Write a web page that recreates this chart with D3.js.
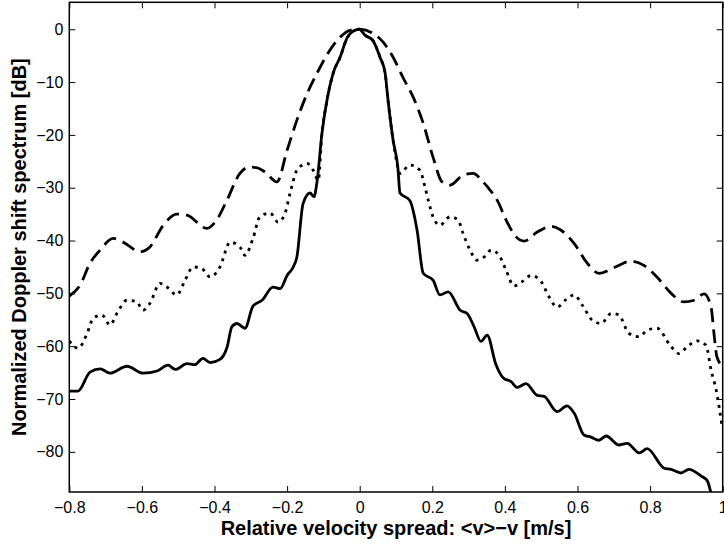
<!DOCTYPE html>
<html>
<head>
<meta charset="utf-8">
<script src="https://cdn.jsdelivr.net/npm/d3@7"></script>
<style>
  body { margin: 0; background: #fff; }
  svg { display: block; font-family: "Liberation Sans", Arial, Helvetica, sans-serif; }
</style>
</head>
<body>
<div id="chart"></div>
<script>
// tick values
var xTicks = [-0.8, -0.6, -0.4, -0.2, 0, 0.2, 0.4, 0.6, 0.8, 1];
var yTicks = [0, -10, -20, -30, -40, -50, -60, -70, -80];

// [velocity, dB]
var solidLine = [
  [-0.8,-68.5],[-0.776,-68.5],[-0.743,-64.9],[-0.715,-64.3],[-0.688,-65.1],[-0.641,-63.8],
  [-0.597,-65.1],[-0.558,-64.7],[-0.528,-63.6],[-0.508,-64.4],[-0.476,-63.3],[-0.454,-63.5],
  [-0.432,-62.3],[-0.412,-63.1],[-0.385,-62.5],[-0.365,-60.1],[-0.352,-56.3],[-0.338,-55.7],
  [-0.316,-56.6],[-0.294,-52.4],[-0.269,-51.3],[-0.239,-48.8],[-0.219,-49.1],[-0.2,-46.6],
  [-0.183,-45],[-0.173,-43.1],[-0.156,-33],[-0.137,-31],[-0.126,-31.7],[-0.118,-29.1],
  [-0.104,-19.7],[-0.09,-13.4],[-0.073,-8.3],[-0.054,-5.3],[-0.035,-1.7],[-0.013,-0.2],
  [0,0],[0.014,-1.1],[0.036,-2.1],[0.056,-5.3],[0.07,-8.3],[0.078,-13.4],[0.092,-21],
  [0.105,-26.1],[0.111,-31],[0.138,-32.4],[0.158,-38],[0.175,-46.2],[0.202,-47.5],
  [0.221,-50.3],[0.244,-49.7],[0.277,-53.2],[0.296,-53.8],[0.315,-56.3],[0.334,-59.1],
  [0.351,-57.9],[0.375,-63.4],[0.397,-66.1],[0.417,-66.7],[0.434,-67.8],[0.458,-67.1],
  [0.489,-69.3],[0.508,-69.5],[0.544,-72.4],[0.571,-71.3],[0.591,-72.7],[0.618,-76.8],
  [0.637,-77.2],[0.659,-77.8],[0.679,-77],[0.714,-78.7],[0.737,-78.4],[0.77,-80.2],
  [0.792,-79.4],[0.839,-83.1],[0.858,-83.3],[0.885,-84],[0.907,-83.3],[0.941,-84.6],
  [0.957,-85.4],[0.97,-88.5]
];

var dottedLine = [
  [-0.8,-59],[-0.776,-60.4],[-0.751,-57.6],[-0.734,-54.7],[-0.71,-54.1],[-0.688,-56],
  [-0.669,-53.8],[-0.641,-51.3],[-0.614,-51.6],[-0.597,-53.2],[-0.578,-51.9],[-0.55,-48.1],
  [-0.531,-48.8],[-0.504,-50.3],[-0.481,-47.5],[-0.459,-45],[-0.435,-45.3],[-0.412,-46.9],
  [-0.385,-45],[-0.357,-40.3],[-0.33,-41.2],[-0.316,-42.8],[-0.294,-39.6],[-0.275,-35.5],
  [-0.247,-34.8],[-0.225,-36.5],[-0.206,-34.9],[-0.192,-31.1],[-0.173,-26.7],[-0.145,-25.4],
  [-0.128,-26.7],[-0.114,-28.6],[-0.104,-19.7],[-0.09,-13.4],[-0.073,-8.3],[-0.054,-5.3],
  [-0.035,-1.7],[-0.013,-0.2],[0,0],[0.014,-1.1],[0.036,-2.1],[0.056,-5.3],[0.07,-8.3],
  [0.078,-13.4],[0.092,-21],[0.105,-26.1],[0.111,-27.3],[0.138,-25.7],[0.166,-26.7],
  [0.18,-29.9],[0.189,-32.4],[0.202,-35.5],[0.221,-37.1],[0.249,-35.5],[0.271,-36.1],
  [0.285,-38.7],[0.304,-41.8],[0.323,-43.7],[0.343,-43.1],[0.362,-41.8],[0.384,-42.8],
  [0.403,-45.6],[0.425,-48.6],[0.447,-47.8],[0.472,-46.6],[0.5,-47.8],[0.522,-50.7],
  [0.544,-52.6],[0.568,-51.2],[0.591,-50.3],[0.613,-52.2],[0.641,-55.1],[0.665,-55.7],
  [0.693,-53.8],[0.714,-54.1],[0.742,-57.6],[0.77,-58.2],[0.792,-57],[0.819,-56.6],
  [0.858,-60.1],[0.88,-61.4],[0.902,-60.1],[0.93,-59],[0.954,-59.8],[0.968,-64.5],
  [0.982,-68.3],[0.998,-75]
];

var dashedLine = [
  [-0.8,-50.5],[-0.77,-48.4],[-0.743,-44.3],[-0.715,-41.8],[-0.679,-39.6],[-0.652,-40.3],
  [-0.605,-42.1],[-0.578,-41.2],[-0.541,-37.1],[-0.504,-35],[-0.476,-35.2],[-0.421,-37.7],
  [-0.394,-36.1],[-0.366,-32.4],[-0.33,-27.3],[-0.305,-26.1],[-0.285,-26.2],[-0.261,-27],
  [-0.228,-28.9],[-0.2,-22.9],[-0.173,-17.2],[-0.145,-12.2],[-0.118,-8.4],[-0.088,-4.6],
  [-0.054,-1.5],[-0.027,-0.2],[0,0],[0.037,-0.8],[0.064,-2.4],[0.092,-5.3],[0.119,-9.1],
  [0.147,-12.8],[0.175,-17.8],[0.202,-24.2],[0.227,-28.9],[0.249,-29.5],[0.285,-27.6],
  [0.312,-27.3],[0.34,-28.9],[0.354,-30],[0.379,-32.4],[0.406,-36.5],[0.431,-39.3],
  [0.453,-40.1],[0.489,-38.4],[0.527,-37.3],[0.554,-38],[0.591,-40.6],[0.627,-44.3],
  [0.659,-46.2],[0.701,-45.1],[0.747,-43.9],[0.783,-44.7],[0.819,-46.9],[0.858,-50],
  [0.893,-51.6],[0.921,-51.3],[0.949,-50.1],[0.968,-52.6],[0.976,-57.6],[0.984,-62],
  [1.0,-63.8]
];

var series = [
  {name: "solid", data: solidLine, dash: null},
  {name: "dotted", data: dottedLine, dash: "3,5"},
  {name: "dashed", data: dashedLine, dash: "14,7"}
];

function drawChart() {
  var width = 724, height = 545;
  var padL = 69.3, padR = 722.7, padT = 2.3, padB = 492;

  var svg = d3.select("#chart").append("svg")
    .attr("width", width)
    .attr("height", height);

  var x = d3.scaleLinear().domain([-0.8, 1]).range([padL, padR]);
  var y = d3.scaleLinear().domain([-87.6, 5.1]).range([padB, padT]);
  var fmt = d3.format("~g");

  svg.append("defs").append("clipPath").attr("id", "plotclip")
    .append("rect")
      .attr("x", padL).attr("y", padT)
      .attr("width", padR - padL).attr("height", padB - padT);

  //curves
  var line = d3.line()
    .x(function(d) { return x(d[0]); })
    .y(function(d) { return y(d[1]); })
    .curve(d3.curveMonotoneX);

  svg.append("g").attr("clip-path", "url(#plotclip)")
    .selectAll("path")
    .data(series)
    .enter()
    .append("path")
      .attr("d", function(d) { return line(d.data); })
      .attr("fill", "none")
      .attr("stroke", "#000")
      .attr("stroke-width", 2.8)
      .attr("stroke-linejoin", "round")
      .attr("stroke-dasharray", function(d) { return d.dash; });

  //axes, ticks pointing in
  svg.append("g")
    .attr("transform", "translate(0," + padB + ")")
    .call(d3.axisBottom(x).tickValues(xTicks).tickFormat(fmt)
      .tickSizeInner(-6).tickSizeOuter(0).tickPadding(10));

  svg.append("g")
    .attr("transform", "translate(0," + padT + ")")
    .call(d3.axisTop(x).tickValues(xTicks).tickFormat("")
      .tickSizeInner(-6).tickSizeOuter(0));

  svg.append("g")
    .attr("transform", "translate(" + padL + ",0)")
    .call(d3.axisLeft(y).tickValues(yTicks).tickFormat(fmt)
      .tickSizeInner(-6).tickSizeOuter(0).tickPadding(6));

  svg.append("g")
    .attr("transform", "translate(" + padR + ",0)")
    .call(d3.axisRight(y).tickValues(yTicks).tickFormat("")
      .tickSizeInner(-6).tickSizeOuter(0));

  svg.selectAll(".domain").remove();
  svg.selectAll(".tick line").attr("stroke", "#000").attr("stroke-width", 1);
  svg.selectAll(".tick text")
    .attr("fill", "#000")
    .style("font-size", "16px")
    .style("font-family", "\"Liberation Sans\", Arial, sans-serif");

  //box
  svg.append("rect")
    .attr("x", x(-0.8)).attr("y", y(5.1))
    .attr("width", x(1) - x(-0.8)).attr("height", y(-87.6) - y(5.1))
    .attr("fill", "none")
    .attr("stroke", "#000")
    .attr("stroke-width", 1.5);

  //labels
  svg.append("text")
    .attr("x", (padL + padR) / 2)
    .attr("y", 535)
    .attr("text-anchor", "middle")
    .style("font-size", "20px")
    .style("font-weight", "bold")
    .text("Relative velocity spread: <v>\u2212v [m/s]");

  svg.append("text")
    .attr("transform", "translate(25.5," + ((padT + padB) / 2) + ") rotate(-90)")
    .attr("text-anchor", "middle")
    .style("font-size", "20px")
    .style("font-weight", "bold")
    .text("Normalized Doppler shift spectrum [dB]");
}

drawChart();
</script>
</body>
</html>
